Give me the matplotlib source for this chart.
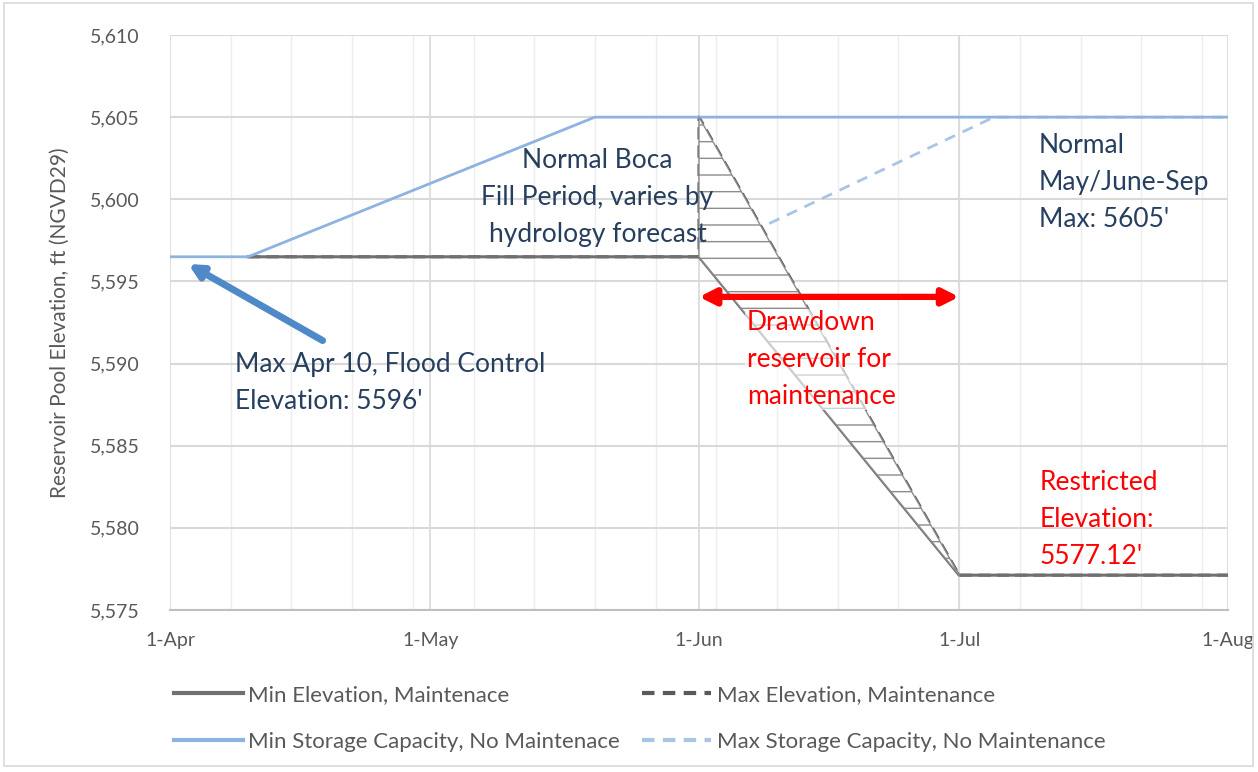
import numpy as np
import matplotlib.pyplot as plt
from matplotlib.patches import Rectangle

# days counted from 1-Apr
month_ticks = [0, 30, 61, 91, 122]
month_labels = ['1-Apr', '1-May', '1-Jun', '1-Jul', '1-Aug']
elev_ticks = [5575, 5580, 5585, 5590, 5595, 5600, 5605, 5610]

min_storage_days = [0, 9, 49, 122]
min_storage_elev = [5596.5, 5596.5, 5605, 5605]

max_storage_days = [61, 95, 122]
max_storage_elev = [5596.5, 5605, 5605]

min_maint_days = [9, 61, 91, 122]
min_maint_elev = [5596.5, 5596.5, 5577.12, 5577.12]

max_maint_days = [9, 61, 61, 91, 122]
max_maint_elev = [5596.5, 5596.5, 5605, 5577.12, 5577.12]

plt.rcParams['font.family'] = ['Lato', 'DejaVu Sans']
txt_blue = '#263F5E'
gray_txt = '#595959'

fig = plt.figure(figsize=(12.58, 7.72), dpi=100)
ax = fig.add_axes([170/1258, 1 - 610/772, (1228-170)/1258, (610-35)/772])

# weekly faint grid + monthly grid
for d in range(7, 122, 7):
    ax.axvline(d, color='#EDEDED', lw=1, zorder=0)
for d in month_ticks:
    ax.axvline(d, color='#D9D9D9', lw=1.2, zorder=0.5)
for e in elev_ticks:
    ax.axhline(e, color='#D9D9D9', lw=1.5, zorder=0.5)

ax.plot(max_maint_days, max_maint_elev, color='#5A5A5A', lw=2.2, dashes=(4, 2), zorder=2)
ax.plot(min_maint_days, min_maint_elev, color='#707070', lw=2.2, zorder=2)

# hatched drawdown window in June
fx = np.linspace(61, 91, 31)
upper = np.interp(fx, max_maint_days[2:], max_maint_elev[2:])
lower = np.interp(fx, min_maint_days[1:], min_maint_elev[1:])
plt.rcParams['hatch.color'] = '#8C8C8C'
plt.rcParams['hatch.linewidth'] = 1.0
ax.fill_between(fx, lower, upper, facecolor='white', edgecolor='#8C8C8C', hatch='-', lw=1.0, zorder=3)

ax.plot(max_storage_days, max_storage_elev, color='#A9C4E4', lw=2, dashes=(4, 3), zorder=1.5)
ax.plot(min_storage_days, min_storage_elev, color='#8DB3E0', lw=2, zorder=2.5)

ax.set_xlim(0, 122)
ax.set_ylim(5575, 5610)
ax.set_xticks(month_ticks)
ax.set_xticklabels(month_labels)
ax.set_yticks(elev_ticks)
ax.set_yticklabels([f'{v:,}' for v in elev_ticks])
ax.tick_params(axis='both', length=0, labelsize=14, colors=gray_txt)
ax.tick_params(axis='y', pad=22)
ax.tick_params(axis='x', pad=16)
for s in ['top', 'right', 'left']:
    ax.spines[s].set_visible(False)
ax.spines['bottom'].set_color('#BFBFBF')
ax.spines['bottom'].set_linewidth(1.5)
ax.set_ylabel('Reservoir Pool Elevation, ft (NGVD29)', fontsize=15, color=gray_txt, labelpad=14)

# annotations
fs = 19
ls = 1.6
ax.text(49.3, 5600.1, 'Normal Boca\nFill Period, varies by\nhydrology forecast', color=txt_blue,
        fontsize=fs, ha='center', va='center', linespacing=ls, zorder=5)
ax.text(100.2, 5601.0, "Normal\nMay/June-Sep\nMax: 5605'", color=txt_blue,
        fontsize=fs, ha='left', va='center', linespacing=ls, zorder=5)
ax.text(7.5, 5588.8, "Max Apr 10, Flood Control\nElevation: 5596'", color=txt_blue,
        fontsize=fs, ha='left', va='center', linespacing=ls, zorder=5)
ax.text(66.5, 5590.25, 'Drawdown\nreservoir for\nmaintenance', color='#FF0000',
        fontsize=fs, ha='left', va='center', linespacing=ls, zorder=5,
        bbox=dict(facecolor='white', edgecolor='none', alpha=0.6, pad=1))
ax.text(100.3, 5580.5, "Restricted\nElevation:\n5577.12'", color='#FF0000',
        fontsize=fs, ha='left', va='center', linespacing=ls, zorder=5)

ax.annotate('', xy=(61, 5594.06), xytext=(91, 5594.06),
            arrowprops=dict(arrowstyle='<|-|>', color='#FF0000', lw=4.5, mutation_scale=24,
                            shrinkA=0, shrinkB=0), zorder=6)
ax.annotate('', xy=(2.1, 5596.06), xytext=(17.6, 5591.4),
            arrowprops=dict(arrowstyle='-|>', color='#4F89C8', lw=5, mutation_scale=20,
                            shrinkA=0, shrinkB=0), zorder=6)

# legend
h_min_m, = ax.plot([], [], color='#707070', lw=3)
h_max_m, = ax.plot([], [], color='#5A5A5A', lw=3, dashes=(3, 2))
h_min_s, = ax.plot([], [], color='#8DB3E0', lw=3)
h_max_s, = ax.plot([], [], color='#A9C4E4', lw=3, dashes=(3, 2))
fig.legend([h_min_m, h_min_s, h_max_m, h_max_s],
           ['Min Elevation, Maintenace', 'Min Storage Capacity, No Maintenace',
            'Max Elevation, Maintenance', 'Max Storage Capacity, No Maintenance'],
           ncol=2, loc='upper left', bbox_to_anchor=(154/1258, 1 - 665/772),
           frameon=False, fontsize=16, handlelength=3.1, handletextpad=0.25,
           columnspacing=1.0, labelspacing=1.2, labelcolor=gray_txt)

fig.add_artist(Rectangle((4/1258, 6/772), 1249/1258, 763/772, transform=fig.transFigure,
                         fill=False, edgecolor='#D9D9D9', lw=1.2))

fig.savefig('out.png', dpi=100)
